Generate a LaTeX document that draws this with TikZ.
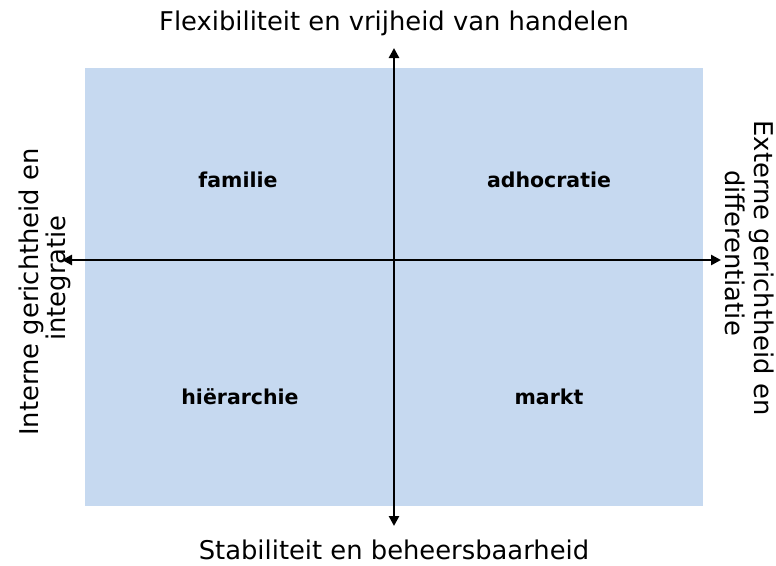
\documentclass[tikz,border=0pt]{standalone}
\usepackage{fontspec}
\setmainfont{DejaVu Sans}
\usetikzlibrary{arrows.meta}
\definecolor{quad}{HTML}{C6D9F0}
\tikzset{
  axis/.style={line width=2.7pt,-{Triangle[length=10pt,width=10pt]}},
  quadlabel/.style={font=\fontsize{20.5}{24}\selectfont\bfseries,inner sep=0pt},
  axislabel/.style={font=\fontsize{25.8}{30}\selectfont,inner sep=0pt}
}
\begin{document}
\begin{tikzpicture}[x=1pt,y=-1pt]
\useasboundingbox (0,0) rectangle (776,565);
\fill[quad] (85,68) rectangle (703,506);
\coordinate (c) at (394,260);
\coordinate (top) at (394,48);
\coordinate (bot) at (394,526);
\coordinate (lft) at (62,260);
\coordinate (rgt) at (721,260);
\draw[axis] (c) -- (top);
\draw[axis] (c) -- (bot);
\draw[axis] (c) -- (lft);
\draw[axis] (c) -- (rgt);
\node[quadlabel] (fam) at (238,180) {familie};
\node[quadlabel] (adh) at (549,180) {adhocratie};
\node[quadlabel] (hie) at (240,397) {hiërarchie};
\node[quadlabel] (mar) at (549,397) {markt};
\node[axislabel] (tl) at (394,23) {Flexibiliteit en vrijheid van handelen};
\node[axislabel] (bl) at (394,550) {Stabiliteit en beheersbaarheid};
\node[axislabel,rotate=90] (ll1) at (31,292) {Interne gerichtheid en};
\node[axislabel,rotate=90] (ll2) at (58,278) {integratie};
\node[axislabel,rotate=-90] (rl1) at (762,268) {Externe gerichtheid en};
\node[axislabel,rotate=-90] (rl2) at (735,253) {differentiatie};
\end{tikzpicture}
\end{document}
